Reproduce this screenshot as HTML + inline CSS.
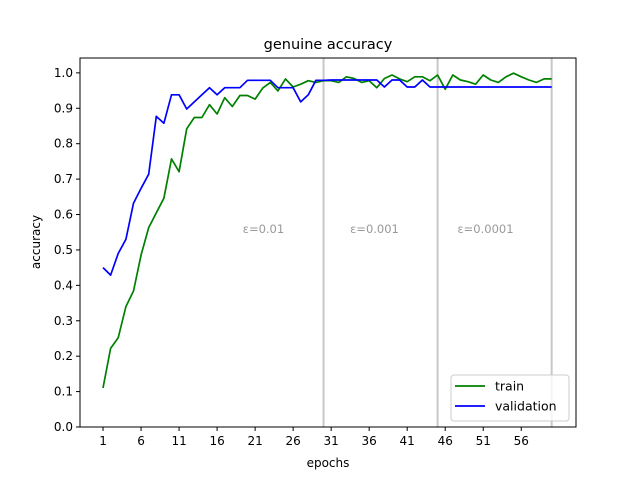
<!DOCTYPE html>
<html><head><meta charset="utf-8"><style>
body{margin:0;background:#fff;}
svg text{font-family:"DejaVu Sans","Liberation Sans",sans-serif;}
</style></head><body>
<svg id="c" width="640" height="480" viewBox="0 0 640 480" xmlns="http://www.w3.org/2000/svg">
<rect width="640" height="480" fill="#fff"/>
<g id="plot"></g>
</svg>
<script>
const trainAcc=[0.11,0.222,0.252,0.34,0.384,0.486,0.563,0.605,0.646,0.757,0.721,0.842,0.874,0.874,0.91,0.884,0.93,0.905,0.936,0.936,0.926,0.957,0.973,0.949,0.983,0.96,0.968,0.978,0.973,0.978,0.978,0.973,0.989,0.984,0.973,0.978,0.958,0.984,0.994,0.983,0.975,0.989,0.989,0.978,0.994,0.954,0.994,0.98,0.975,0.968,0.994,0.98,0.973,0.989,0.999,0.989,0.98,0.973,0.983,0.983];
const valAcc=[0.45,0.429,0.49,0.53,0.632,0.674,0.714,0.877,0.858,0.938,0.938,0.898,0.918,0.938,0.958,0.938,0.958,0.958,0.958,0.979,0.979,0.979,0.979,0.958,0.958,0.958,0.918,0.938,0.979,0.979,0.98,0.98,0.98,0.98,0.98,0.98,0.98,0.96,0.98,0.98,0.96,0.96,0.98,0.96,0.96,0.96,0.96,0.96,0.96,0.96,0.96,0.96,0.96,0.96,0.96,0.96,0.96,0.96,0.96,0.96];
const xTicks=[1,6,11,16,21,26,31,36,41,46,51,56];
const yTicks=[0,0.1,0.2,0.3,0.4,0.5,0.6,0.7,0.8,0.9,1.0];
const stageLines=[30,45,60];
const stageLabels=["ε=0.01","ε=0.001","ε=0.0001"];
const stageLabelX=[22.1,36.7,51.3];

const L=80,R=576,T=58,B=427;
const xmin=-2.03,xmax=63.2,ymin=0,ymax=1.042;
const X=v=>L+(v-xmin)/(xmax-xmin)*(R-L);
const Y=v=>B-(v-ymin)/(ymax-ymin)*(B-T);
const NS="http://www.w3.org/2000/svg";
const g=document.getElementById('plot');
function mk(t,a,txt){const e=document.createElementNS(NS,t);for(const k in a)e.setAttribute(k,a[k]);if(txt!==undefined)e.textContent=txt;g.appendChild(e);return e;}

stageLines.forEach((s,i)=>{
 const e=mk('line',{x1:X(s),x2:X(s),y1:T,y2:B,stroke:'#c8c8c8','stroke-width':2});
 
 
 const t=mk('text',{x:X(stageLabelX[i]),y:Y(0.55)+1,'font-size':11.5,fill:'#999','text-anchor':'middle'},stageLabels[i]);
 
 
});

function series(arr,color,name){
 const pts=arr.map((v,i)=>X(i+1).toFixed(1)+','+Y(v).toFixed(1)).join(' ');
 const p=mk('polyline',{points:pts,fill:'none',stroke:color,'stroke-width':1.7,'stroke-linejoin':'round'});
 
 
}
series(trainAcc,'green','train-line');
series(valAcc,'blue','validation-line');

const fr=mk('rect',{x:L,y:T,width:R-L,height:B-T,fill:'none',stroke:'#000','stroke-width':1});



xTicks.forEach(v=>{
 const l=mk('line',{x1:X(v),x2:X(v),y1:B,y2:B+4,stroke:'#000'});
 
 
 const t=mk('text',{x:X(v),y:B+18,'font-size':12,'text-anchor':'middle'},String(v));
 
 
});
yTicks.forEach(v=>{
 const l=mk('line',{x1:L-4,x2:L,y1:Y(v),y2:Y(v),stroke:'#000'});
 
 
 const t=mk('text',{x:L-7,y:Y(v)+4,'font-size':12,'text-anchor':'end'},v.toFixed(1));
 
 
});

let t=mk('text',{x:328,y:49,'font-size':14.5,'text-anchor':'middle'},'genuine accuracy');


t=mk('text',{x:328,y:467,'font-size':12,'text-anchor':'middle'},'epochs');


t=mk('text',{x:0,y:0,'font-size':12,'text-anchor':'middle',transform:'translate(40,242) rotate(-90)'},'accuracy');



const lg=mk('rect',{x:451,y:375,width:118,height:46,rx:3,fill:'#fff','fill-opacity':0.8,stroke:'#ccc'});


[['train','green',386],['validation','blue',406]].forEach(([n,c,y])=>{
 const l=mk('line',{x1:455,x2:485,y1:y,y2:y,stroke:c,'stroke-width':1.7});
 
 
 const tx=mk('text',{x:495,y:y+4.5,'font-size':12.5},n);
 
 
});
</script>
</body></html>
